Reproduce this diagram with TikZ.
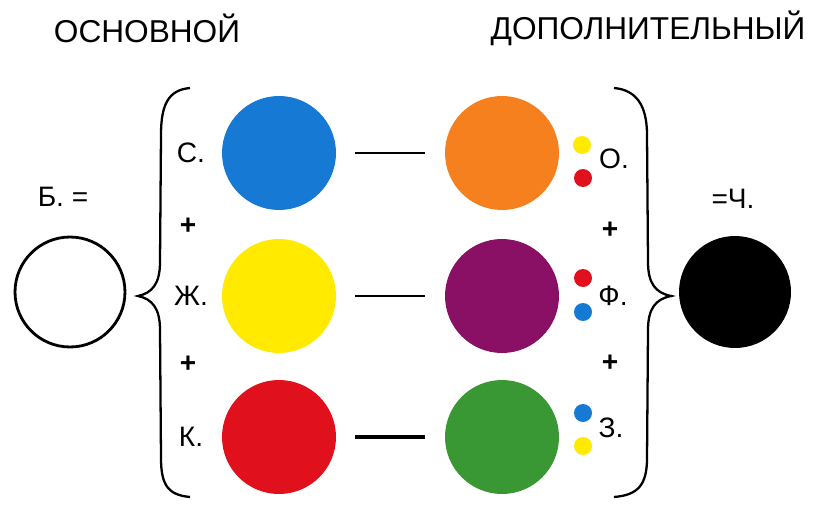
\documentclass[tikz,border=0pt]{standalone}
\usepackage{fontspec}
\setmainfont{Liberation Sans}
\usetikzlibrary{positioning}
\definecolor{cblue}{RGB}{22,122,212}
\definecolor{cyellow}{RGB}{255,234,0}
\definecolor{cred}{RGB}{224,16,28}
\definecolor{corange}{RGB}{247,128,30}
\definecolor{cpurple}{RGB}{138,16,102}
\definecolor{cgreen}{RGB}{58,152,52}

\begin{document}
\begin{tikzpicture}[x=0.02cm, y=-0.02cm,
  disc/.style={circle, minimum size=2.28cm, inner sep=0pt},
  dot/.style={circle, minimum size=0.36cm, inner sep=0pt},
  lbl/.style={font=\fontsize{16}{19}\selectfont},
  head/.style={font=\fontsize{18}{21}\selectfont},
  bar/.style={line width=1.4pt, shorten <=0.38cm, shorten >=0.4cm}]
  \useasboundingbox (0,0) rectangle (813,506);
  % Headers
  \node[head] (hmain) at (147,28) {ОСНОВНОЙ};
  \node[head] (hextra) at (648,28) {ДОПОЛНИТЕЛЬНЫЙ};
  % Main colours
  \node[disc, fill=cblue] (blue) at (279,153) {};
  \node[disc, fill=cyellow] (yellow) at (279,296) {};
  \node[disc, fill=cred] (red) at (279,437) {};
  % Complementary colours
  \node[disc, fill=corange] (orange) at (502,153) {};
  \node[disc, fill=cpurple] (purple) at (502,296) {};
  \node[disc, fill=cgreen] (green) at (502,437) {};
  % Bars
  \draw[bar] (blue) -- (orange);
  \draw[bar] (yellow) -- (purple);
  \draw[bar, line width=1.9pt] (red) -- (green);
  % Left labels
  \node[lbl] (ls) at (191,153) {С.};
  \node[lbl, font=\fontsize{16}{19}\selectfont\bfseries] (lp1) at (188,226) {+};
  \node[lbl] (lzh) at (191,296) {Ж.};
  \node[lbl, font=\fontsize{16}{19}\selectfont\bfseries] (lp2) at (188,364) {+};
  \node[lbl] (lk) at (191,437) {К.};
  % Right labels and mix dots
  \node[dot, fill=cyellow] (dy1) at (582,145) {};
  \node[dot, fill=cred] (dr1) at (583,178) {};
  \node[lbl] (lo) at (614,159) {О.};
  \node[lbl, font=\fontsize{16}{19}\selectfont\bfseries] (rp1) at (610,230) {+};
  \node[dot, fill=cred] (dr2) at (583,278) {};
  \node[dot, fill=cblue] (db2) at (583,312) {};
  \node[lbl] (lf) at (613,296) {Ф.};
  \node[lbl, font=\fontsize{16}{19}\selectfont\bfseries] (rp2) at (610,363) {+};
  \node[dot, fill=cblue] (db3) at (583,413) {};
  \node[dot, fill=cyellow] (dy3) at (583,446) {};
  \node[lbl] (lz) at (611,428) {З.};
  % Braces
  \draw[line width=1.3pt] (190,88) .. controls (168,90) and (161,105) .. (161,135)
    -- (160,262) .. controls (160,284) and (152,293) .. (138,296)
    .. controls (152,299) and (160,308) .. (160,330)
    -- (161,458) .. controls (161,485) and (168,495) .. (190,497);
  \draw[line width=1.3pt] (614,88) .. controls (636,90) and (647,105) .. (647,135)
    -- (648,262) .. controls (648,284) and (656,293) .. (671,296)
    .. controls (656,299) and (648,308) .. (648,330)
    -- (647,458) .. controls (647,485) and (638,495) .. (614,497);
  % White and black
  \node[lbl] (lw) at (63,197) {Б. =};
  \node[disc, draw, line width=1.6pt, minimum size=2.2cm] (white) at (70,292) {};
  \node[lbl] (lb) at (733,199) {=Ч.};
  \node[disc, fill=black, minimum size=2.24cm] (black) at (735,292) {};
\end{tikzpicture}
\end{document}
